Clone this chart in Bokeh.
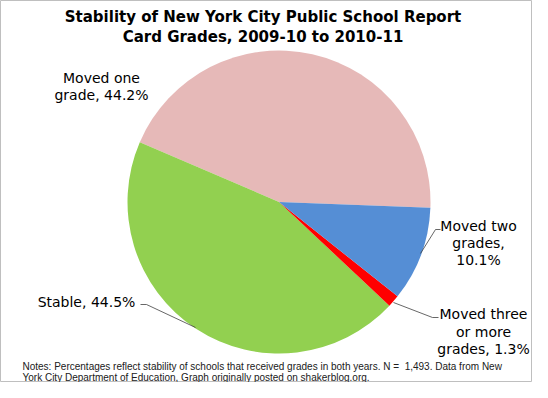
import numpy as np
from bokeh.plotting import figure
from bokeh.models import ColumnDataSource, Range1d
from bokeh.core.properties import value
from bokeh.embed import file_html
from bokeh.resources import INLINE

# ---- data ----
categories = ["Moved one grade", "Stable", "Moved three or more grades", "Moved two grades"]
values = [44.2, 44.5, 1.3, 10.1]
colors = ["#E6B9B8", "#92D050", "#FF0000", "#558ED5"]
label_lines = [
    ["Moved one", "grade, 44.2%"],
    ["Stable, 44.5%"],
    ["Moved three", "or more", "grades, 1.3%"],
    ["Moved two", "grades,", "10.1%"],
]
title_lines = ["Stability of New York City Public School Report",
               "Card Grades, 2009-10 to 2010-11"]
note_lines = ["Notes: Percentages reflect stability of schools that received grades in both years. N =\u00a0 1,493. Data from New",
              "York City Department of Education, Graph originally posted on shakerblog.org."]

W, H = 532, 382
def px(X, Y):
    return X, H - Y

p = figure(width=W, height=H, output_backend="svg", toolbar_location=None,
           x_range=Range1d(0, W), y_range=Range1d(0, H), min_border=0,
           background_fill_color="white", border_fill_color="white")
p.axis.visible = False
p.grid.visible = False
p.outline_line_color = "#BFBFBF"
p.outline_line_width = 1

# ---- pie ----
vals = np.array(values)
frac = vals / vals.sum()
start0 = np.deg2rad(-2.2)
ends = start0 + np.cumsum(frac) * 2 * np.pi
starts = np.concatenate([[start0], ends[:-1]])
cx, cy = px(278.5, 201.5)
src = ColumnDataSource(dict(start=starts, end=ends, color=colors, cat=categories))
p.wedge(x=cx, y=cy, radius=151.5, start_angle="start", end_angle="end",
        direction="anticlock", fill_color="color", line_color=None, source=src)

# ---- leader lines ----
leaders = [
    [(420, 253), (435, 229), (440, 229)],
    [(393, 302), (432, 317), (438, 317)],
    [(195, 327), (146, 304), (140, 304)],
]
for pts in leaders:
    xs, ys = zip(*[px(a, b) for a, b in pts])
    p.line(list(xs), list(ys), line_color="#404040", line_width=0.8)

# ---- labels ----
label_pos = [
    (101, [77, 94]),
    (86, [301]),
    (483, [313, 331, 348]),
    (478, [225, 242, 259]),
]
for lines, (X, Ys) in zip(label_lines, label_pos):
    for t, Y in zip(lines, Ys):
        x, y = px(X, Y)
        p.text(x=[x], y=[y], text=[t], text_align="center", text_baseline="middle",
               text_font=value("DejaVu Sans"), text_font_size="14px", text_color="black")

# ---- title ----
for t, Y in zip(title_lines, [16, 36]):
    x, y = px(262.5, Y)
    p.text(x=[x], y=[y], text=[t], text_align="center", text_baseline="middle",
           text_font=value("DejaVu Sans"), text_font_style="bold",
           text_font_size="15px", text_color="black")

# ---- notes ----
for t, Y in zip(note_lines, [366, 377]):
    x, y = px(22, Y)
    p.text(x=[x], y=[y], text=[t], text_align="left", text_baseline="middle",
           text_font=value("Liberation Sans"), text_font_size="10px", text_color="#202020")

open("out.html", "w").write(file_html(p, INLINE))
